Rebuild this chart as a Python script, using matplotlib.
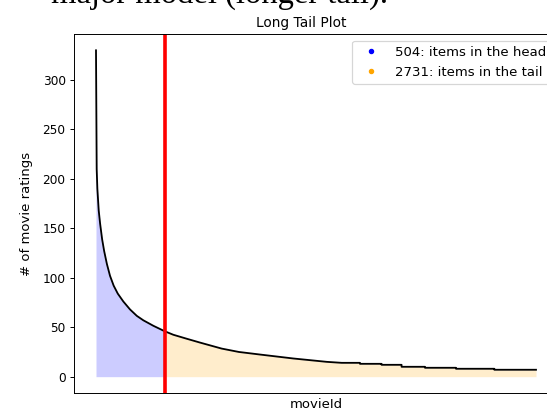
import numpy as np
import matplotlib
matplotlib.use("Agg")
import matplotlib.pyplot as plt

# number of items on each side of the cut
n_head = 504
n_tail = 2731

# smooth part of the popularity curve (rank, # ratings)
curve_rank = [0, 5, 10, 20, 30, 45, 60, 80, 103, 130, 160, 201, 250, 300,
              348, 421, 504, 568, 666, 764, 924, 1050, 1205, 1450, 1696, 1806]
curve_count = [330, 210, 190, 168, 155, 139, 127, 114, 102, 92, 84, 76, 68,
               61.5, 57, 51.5, 46, 42.4, 38.4, 34.5, 28.4, 25, 22.4, 18.4, 15, 14]

# stair steps at the end of the tail (start rank, # ratings)
step_start = [1806, 1940, 2099, 2246, 2418, 2646, 2928]
step_count = [14, 13, 12, 10, 9, 8, 7]

DPI = 87
plt.rcParams["font.size"] = 11
plt.rcParams["xtick.labelsize"] = 10
plt.rcParams["ytick.labelsize"] = 10

fig = plt.figure(figsize=(547 / DPI, 412 / DPI), dpi=DPI)
ax = fig.add_axes([74 / 547, 19 / 412, 484 / 547, 359 / 412])

# build the full curve
x = list(curve_rank)
y = list(curve_count)
ends = step_start[1:] + [n_head + n_tail - 1]
for s, e, c in zip(step_start, ends, step_count):
    x += [s, e]
    y += [c, c]
x = np.array(x, dtype=float)
y = np.array(y, dtype=float)

ax.plot(x, y, color="black", lw=1.5)
ax.fill_between(x, y, where=x <= n_head, color="blue", alpha=0.2, lw=0)
ax.fill_between(x, y, where=x >= n_head, color="orange", alpha=0.2, lw=0)
ax.axvline(n_head, color="red", lw=3)

ax.plot([], [], "o", color="blue", ms=3.5, label="%d: items in the head" % n_head)
ax.plot([], [], "o", color="orange", ms=3.5, label="%d: items in the tail" % n_tail)
ax.legend(loc="upper right", fontsize=11)

ax.set_xticks([])
ax.set_title("Long Tail Plot", fontsize=11.4, x=(301 - 74) / 484)
ax.set_ylabel("# of movie ratings", labelpad=8)
ax.set_xlabel("movieId")

# cropped line of the surrounding document text
fig.text(388 / 547, 1 - 3 / 412, "major model (longer tail).",
         family="Liberation Serif", fontsize=27, ha="right", va="baseline")

fig.savefig("out.png", dpi=DPI)
